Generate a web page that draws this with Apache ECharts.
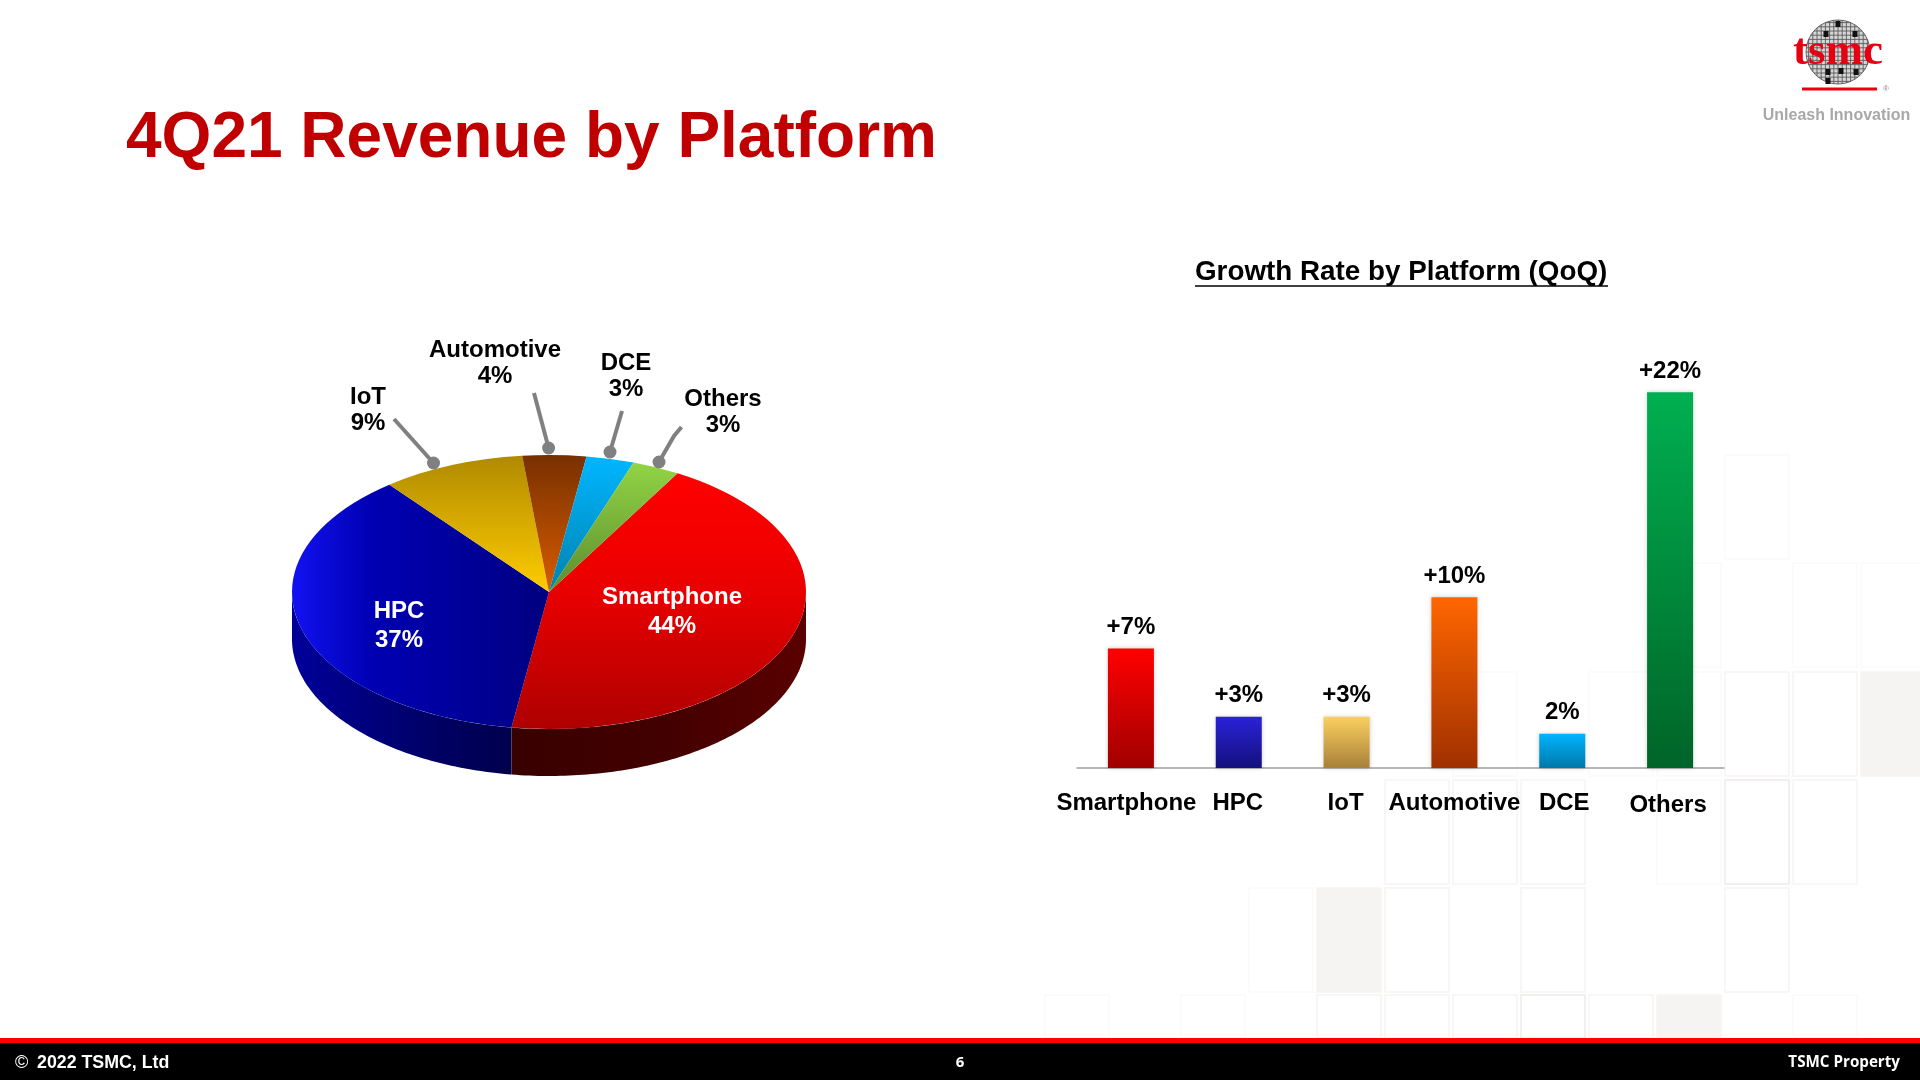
<!DOCTYPE html>
<html>
<head>
<meta charset="utf-8">
<title>4Q21 Revenue by Platform</title>
<style>
  html, body { margin: 0; padding: 0; background: #fff; }
  #chart { width: 1920px; height: 1080px; }
</style>
<script src="https://cdn.jsdelivr.net/npm/echarts@6/dist/echarts.min.js"></script>
</head>
<body>
<div id="chart"></div>
<script>
const pieNames = ['Smartphone', 'HPC', 'IoT', 'Automotive', 'DCE', 'Others'];
const revenueShare = [44, 37, 9, 4, 3, 3];

const growthCategories = ['Smartphone', 'HPC', 'IoT', 'Automotive', 'DCE', 'Others'];
const growthRate = [7, 3, 3, 10, 2, 22];
const growthLabels = ['+7%', '+3%', '+3%', '+10%', '2%', '+22%'];

const sansFont = '"Liberation Sans", Arial, sans-serif';

// pie geometry and colours, by slice
const pie = { cx: 549, cy: 592, rx: 257, ry: 137, depth: 47, startDeg: 30 };
const faceColors = [
  [[0, '#ff0000'], [0.45, '#ea0000'], [1, '#ae0000']],
  [[0, '#1212f2'], [0.3, '#0000b4'], [1, '#000080']],
  [[0, '#b08a00'], [1, '#ffcc00']],
  [[0, '#783000'], [1, '#d85c00']],
  [[0, '#00b6ff'], [1, '#0082ae']],
  [[0, '#92d445'], [1, '#5c8c2e']]
];
const wallColors = [
  [[0, '#380000'], [0.5, '#420000'], [1, '#5a0000']],
  [[0, '#00009a'], [0.5, '#000070'], [1, '#00004c']]
];
const labelSpots = [[672, 612], [399, 626], [368, 410], [495, 363], [626, 376], [723, 412]];
const labelColors = ['#fff', '#fff', '#000', '#000', '#000', '#000'];
const labelLineHeights = [29, 29, 26, 26, 26, 26];
const leaderLines = [
  null,
  null,
  [[394, 419], [433.5, 463]],
  [[534, 393], [548.6, 448]],
  [[622, 411], [610, 452]],
  [[681.5, 427], [674, 436], [659, 462]]
];

// bar colours and small label nudges
const barColors = [
  ['#ff0000', '#a00000'],
  ['#2a22d8', '#14107c'],
  ['#fbd060', '#a88038'],
  ['#ff6600', '#a03000'],
  ['#00b4ff', '#0078a8'],
  ['#00b050', '#006428']
];
const axisLabelNudge = [-4.5, -1, -1, 0, 2, -2];

// background tiles: [x, y, kind], 0 faint, 1 stronger outline, 2 filled, 3 darkest outline
const tileW = 64;
const tileH = 104;
const tiles = [
  [1725, 455, 0],
  [1657, 563, 0], [1793, 563, 0], [1861, 563, 0],
  [1453, 672, 0], [1589, 672, 0], [1657, 672, 0], [1725, 672, 1], [1793, 672, 1], [1861, 672, 2],
  [1385, 780, 1], [1453, 780, 1], [1521, 780, 1], [1657, 780, 0], [1725, 780, 3], [1793, 780, 1],
  [1249, 888, 0], [1317, 888, 2], [1385, 888, 1], [1521, 888, 1], [1725, 888, 1],
  [1045, 995, 0], [1181, 995, 0], [1317, 995, 1], [1385, 995, 1], [1453, 995, 1], [1521, 995, 3], [1589, 995, 1], [1657, 995, 2], [1793, 995, 0]
];

function gradient(stops, horizontal) {
  return new echarts.graphic.LinearGradient(0, 0, horizontal ? 1 : 0, horizontal ? 0 : 1,
    stops.map((s) => ({ offset: s[0], color: s[1] })));
}

function renderSlice(params, api) {
  const i = params.dataIndex;
  const share = api.value(0);
  const before = revenueShare.slice(0, i).reduce((a, b) => a + b, 0);
  const total = revenueShare.reduce((a, b) => a + b, 0);
  const a0 = pie.startDeg + before / total * 360;
  const a1 = a0 + share / total * 360;
  const children = [];

  // side wall, only the front half (90 to 270 deg from the top) shows
  const w0 = Math.max(a0, 90);
  const w1 = Math.min(a1, 270);
  if (w1 > w0) {
    const upper = [];
    const lower = [];
    const steps = Math.ceil(w1 - w0);
    for (let s = 0; s <= steps; s++) {
      const r = (w0 + (w1 - w0) * s / steps) * Math.PI / 180;
      const x = pie.cx + pie.rx * Math.sin(r);
      const y = pie.cy - pie.ry * Math.cos(r);
      upper.push([x, y]);
      lower.unshift([x, y + pie.depth]);
    }
    children.push({
      type: 'polygon',
      shape: { points: upper.concat(lower) },
      style: { fill: gradient(wallColors[i], true) }
    });
  }

  children.push({
    type: 'sector',
    x: pie.cx,
    y: pie.cy,
    scaleY: pie.ry / pie.rx,
    shape: {
      cx: 0,
      cy: 0,
      r0: 0,
      r: pie.rx,
      startAngle: (a0 - 90) * Math.PI / 180,
      endAngle: (a1 - 90) * Math.PI / 180,
      clockwise: true
    },
    style: { fill: gradient(faceColors[i], i === 1) }
  });

  const leader = leaderLines[i];
  if (leader) {
    const end = leader[leader.length - 1];
    children.push({
      type: 'polyline',
      shape: { points: leader },
      style: { fill: 'none', stroke: '#808080', lineWidth: 4 }
    });
    children.push({
      type: 'circle',
      shape: { cx: end[0], cy: end[1], r: 6.5 },
      style: { fill: '#808080' }
    });
  }

  children.push({
    type: 'text',
    x: labelSpots[i][0],
    y: labelSpots[i][1],
    style: {
      text: pieNames[i] + '\n' + share + '%',
      fill: labelColors[i],
      fontSize: 24,
      fontWeight: 'bold',
      fontFamily: sansFont,
      lineHeight: labelLineHeights[i],
      align: 'center',
      verticalAlign: 'middle'
    }
  });
  return { type: 'group', children };
}

function buildTiles() {
  const strokes = ['#fbfafa', '#f7f5f4', '#f7f5f4', '#eeeae9'];
  return tiles.map((t) => {
    const bottom = Math.min(t[1] + tileH, 1038);
    return {
      type: 'rect',
      z: 0,
      silent: true,
      shape: { x: t[0], y: t[1], width: tileW, height: bottom - t[1] },
      style: {
        fill: t[2] === 2 ? '#f6f4f3' : '#fff',
        stroke: strokes[t[2]],
        lineWidth: 1.5
      }
    };
  });
}

function buildLogo() {
  const cx = 1838, cy = 52, r = 32, step = 4.2;
  const els = [{
    type: 'circle', z: 1, silent: true,
    shape: { cx, cy, r },
    style: { fill: '#d6d6d6', stroke: '#666', lineWidth: 1 }
  }];
  for (let o = -29.4; o <= 30; o += step) {
    const half = Math.sqrt(r * r - o * o);
    els.push({ type: 'line', z: 1, silent: true, shape: { x1: cx + o, y1: cy - half, x2: cx + o, y2: cy + half }, style: { stroke: '#5a5a5a', lineWidth: 0.9 } });
    els.push({ type: 'line', z: 1, silent: true, shape: { x1: cx - half, y1: cy + o, x2: cx + half, y2: cy + o }, style: { stroke: '#5a5a5a', lineWidth: 0.9 } });
  }
  [[1838, 24], [1826, 34], [1855, 34], [1828, 72], [1841, 71], [1856, 72], [1828, 81]].forEach((b) => {
    els.push({ type: 'rect', z: 1, silent: true, shape: { x: b[0] - 2.5, y: b[1] - 3, width: 5, height: 6 }, style: { fill: '#111' } });
  });
  els.push({
    type: 'text', z: 1, silent: true, x: 1838, y: 52,
    style: { text: 'tsmc', fill: '#e60012', fontSize: 45, fontWeight: 'bold', fontFamily: '"Liberation Serif", serif', align: 'center', verticalAlign: 'middle' }
  });
  els.push({ type: 'rect', z: 1, silent: true, shape: { x: 1802, y: 87.5, width: 75, height: 3 }, style: { fill: '#e60012' } });
  els.push({
    type: 'text', z: 1, silent: true, x: 1886, y: 89,
    style: { text: '®', fill: '#8a8a8a', fontSize: 8, fontFamily: sansFont, align: 'center', verticalAlign: 'middle' }
  });
  els.push({
    type: 'text', z: 1, silent: true, x: 1836.5, y: 116,
    style: { text: 'Unleash Innovation', fill: '#a8a8a8', fontSize: 16, fontWeight: 'bold', fontFamily: sansFont, align: 'center', verticalAlign: 'middle' }
  });
  return els;
}

function buildFooter() {
  const footText = (text, x, align, font, weight, size) => ({
    type: 'text', z: 1, silent: true, x, y: 1063,
    style: { text, fill: '#fff', fontSize: size, fontWeight: weight, fontFamily: font, align, verticalAlign: 'middle' }
  });
  return [
    { type: 'rect', z: 1, silent: true, shape: { x: 0, y: 1043, width: 1920, height: 37 }, style: { fill: '#000' } },
    { type: 'rect', z: 1, silent: true, shape: { x: 0, y: 1038, width: 1920, height: 5 }, style: { fill: '#ff0000' } },
    footText('©', 15, 'left', sansFont, 'normal', 18),
    footText('2022 TSMC, Ltd', 37, 'left', sansFont, 'bold', 17.8),
    footText('6', 960, 'center', '"Open Sans", sans-serif', 'bold', 15),
    footText('TSMC Property', 1900, 'right', '"Open Sans", sans-serif', 'bold', 15.2)
  ];
}

const axisRich = {};
growthCategories.forEach((name, i) => {
  const nudge = axisLabelNudge[i];
  axisRich['c' + i] = {
    fontSize: 24,
    fontWeight: 'bold',
    fontFamily: sansFont,
    color: '#000',
    padding: [i === 5 ? 2 : 0, nudge < 0 ? -2 * nudge : 0, 0, nudge > 0 ? 2 * nudge : 0]
  };
});

const chart = echarts.init(document.getElementById('chart'), null, { renderer: 'canvas' });
chart.setOption({
  animation: false,
  backgroundColor: '#fff',
  title: [
    {
      text: '4Q21 Revenue by Platform',
      left: 126,
      top: 107,
      padding: 0,
      textStyle: { color: '#c00000', fontSize: 64, fontWeight: 'bold', fontFamily: sansFont }
    },
    {
      text: 'Growth Rate by Platform (QoQ)',
      left: 1195,
      top: 258,
      padding: 0,
      textStyle: { color: '#000', fontSize: 27.8, fontWeight: 'bold', fontFamily: sansFont }
    }
  ],
  grid: { left: 1077, top: 358, width: 647, height: 410 },
  xAxis: {
    type: 'category',
    data: growthCategories,
    axisTick: { show: false },
    axisLine: { lineStyle: { color: '#a0a0a0', width: 1.5 } },
    axisLabel: {
      interval: 0,
      margin: 23.5,
      formatter: (v) => `{c${growthCategories.indexOf(v)}|${v}}`,
      rich: axisRich
    }
  },
  yAxis: { type: 'value', min: 0, max: 24, show: false },
  graphic: [
    ...buildTiles(),
    { type: 'line', z: 1, silent: true, shape: { x1: 1195, y1: 286, x2: 1608, y2: 286 }, style: { stroke: '#404040', lineWidth: 2 } },
    ...buildLogo(),
    ...buildFooter()
  ],
  series: [
    {
      name: 'Revenue share',
      type: 'custom',
      coordinateSystem: 'none',
      silent: true,
      data: revenueShare,
      renderItem: renderSlice
    },
    {
      name: 'Growth rate',
      type: 'bar',
      barWidth: 46,
      silent: true,
      data: growthRate.map((v, i) => ({
        value: v,
        itemStyle: {
          color: gradient([[0, barColors[i][0]], [1, barColors[i][1]]], false),
          shadowBlur: 4,
          shadowColor: 'rgba(0,0,0,0.2)'
        }
      })),
      label: {
        show: true,
        position: 'top',
        distance: 9,
        color: '#000',
        fontSize: 24,
        fontWeight: 'bold',
        fontFamily: sansFont,
        formatter: (p) => growthLabels[p.dataIndex]
      }
    }
  ]
});
window.addEventListener('resize', () => chart.resize());
</script>
</body>
</html>
